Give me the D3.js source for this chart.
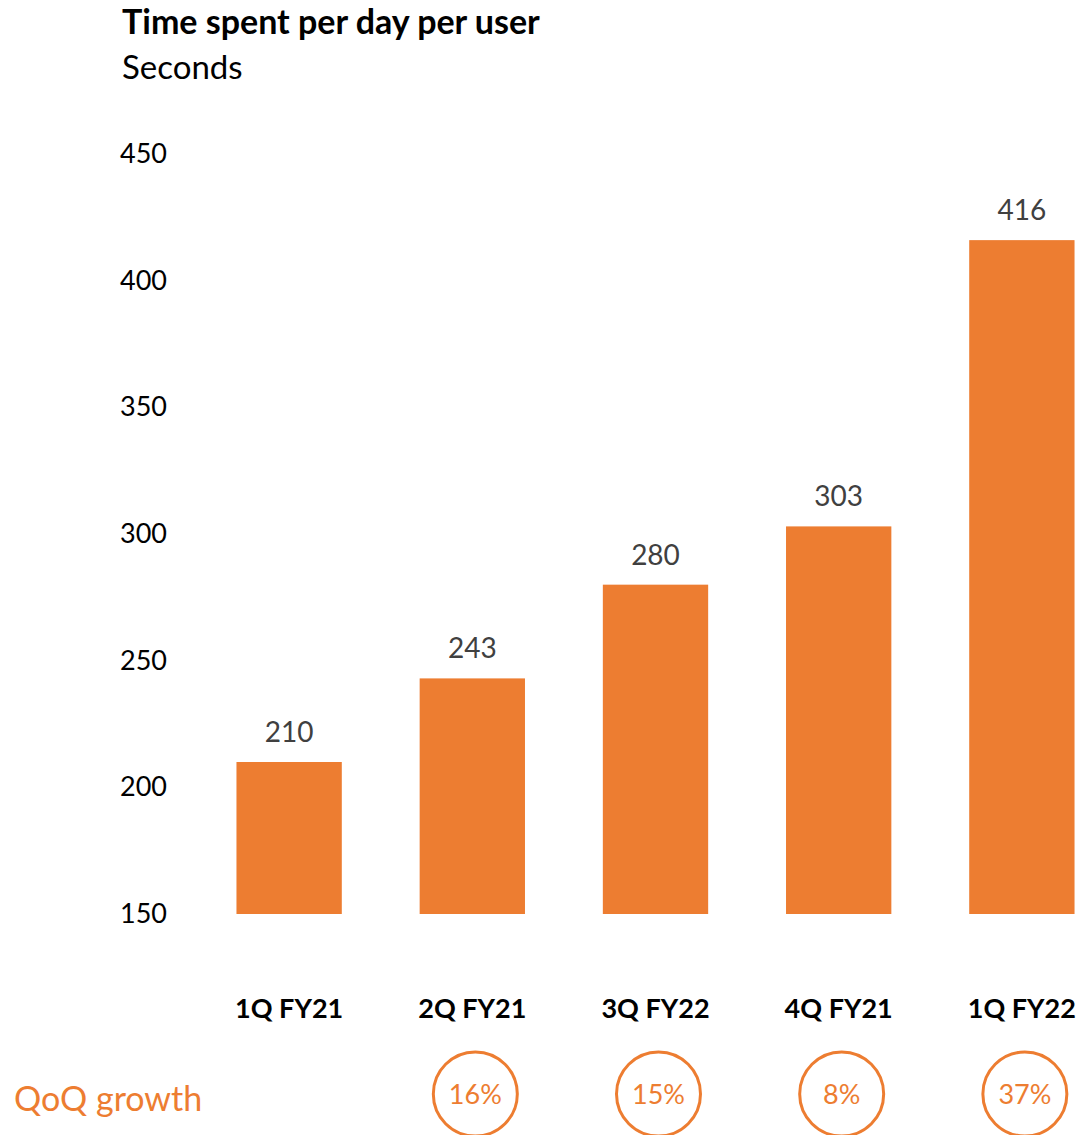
<!DOCTYPE html>
<html>
<head>
<meta charset="utf-8">
<script src="https://cdn.jsdelivr.net/npm/d3@7"></script>
<style>
  html, body { margin: 0; padding: 0; background: #fff; }
  svg { display: block; font-family: Lato, 'Open Sans', sans-serif; }
</style>
</head>
<body>
<svg id="chart" width="1083" height="1135"></svg>
<script>
const categories = ['1Q FY21', '2Q FY21', '3Q FY22', '4Q FY21', '1Q FY22']
const values = [210, 243, 280, 303, 416]
const growth = [null, '16%', '15%', '8%', '37%']
const yTicks = [150, 200, 250, 300, 350, 400, 450]

const orange = '#ED7D31'
const svg = d3.select('#chart')

// scales
const x = d3.scaleBand()
  .domain(categories)
  .range([198, 1113])
  .paddingInner(0.425)
  .paddingOuter(0.21)

const y = d3.scaleLinear()
  .domain([150, 450])
  .range([914, 154])

// title
svg.append('text')
  .attr('x', 122).attr('y', 34)
  .attr('font-size', 34).attr('font-weight', 'bold')
  .attr('fill', '#000')
  .text('Time spent per day per user')

svg.append('text')
  .attr('x', 122).attr('y', 79)
  .attr('font-size', 33)
  .attr('fill', '#000')
  .text('Seconds')

// y tick labels (no axis line)
svg.append('g')
  .selectAll('text')
  .data(yTicks)
  .join('text')
  .attr('x', 120)
  .attr('y', d => y(d) + 9)
  .attr('font-size', 27)
  .attr('fill', '#000')
  .text(d => d)

// bars
svg.append('g')
  .selectAll('rect')
  .data(values)
  .join('rect')
  .attr('x', (d, i) => x(categories[i]))
  .attr('width', x.bandwidth())
  .attr('y', d => y(d))
  .attr('height', d => y(150) - y(d))
  .attr('fill', orange)

// value labels
svg.append('g')
  .selectAll('text')
  .data(values)
  .join('text')
  .attr('x', (d, i) => x(categories[i]) + x.bandwidth() / 2)
  .attr('y', d => y(d) - 20)
  .attr('text-anchor', 'middle')
  .attr('font-size', 28)
  .attr('fill', '#404040')
  .text(d => d)

// category labels
svg.append('g')
  .selectAll('text')
  .data(categories)
  .join('text')
  .attr('x', d => x(d) + x.bandwidth() / 2)
  .attr('y', 1018)
  .attr('text-anchor', 'middle')
  .attr('font-size', 27)
  .attr('font-weight', 'bold')
  .attr('fill', '#000')
  .text(d => d)

// QoQ growth row
svg.append('text')
  .attr('x', 14).attr('y', 1111)
  .attr('font-size', 34)
  .attr('fill', orange)
  .text('QoQ growth')

const g = svg.append('g')
  .selectAll('g')
  .data(categories.map((c, i) => ({ c, v: growth[i] })).filter(d => d.v))
  .join('g')
  .attr('transform', d => `translate(${x(d.c) + x.bandwidth() / 2 + 3},1094)`)

g.append('ellipse')
  .attr('rx', 42).attr('ry', 42)
  .attr('fill', 'none')
  .attr('stroke', orange)
  .attr('stroke-width', 3)

g.append('text')
  .attr('y', 10)
  .attr('text-anchor', 'middle')
  .attr('font-size', 27)
  .attr('fill', orange)
  .text(d => d.v)
</script>
</body>
</html>
